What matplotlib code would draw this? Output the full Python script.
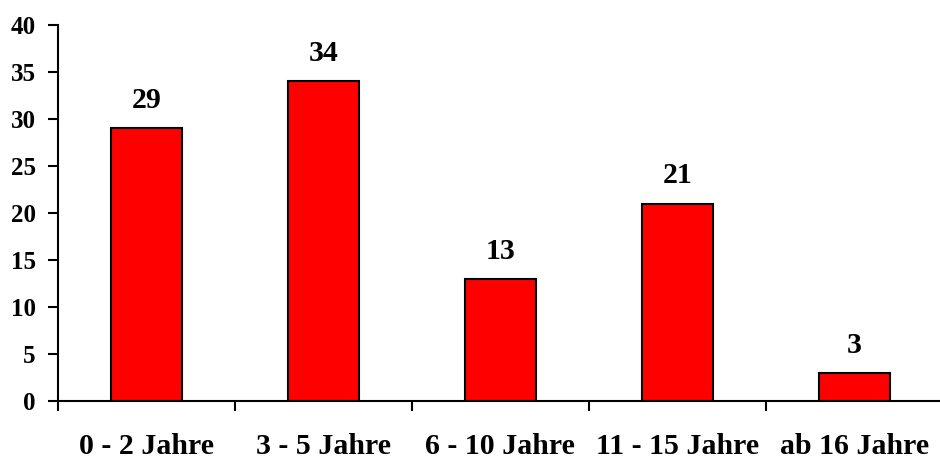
import matplotlib
matplotlib.use("Agg")
import matplotlib.pyplot as plt
import numpy as np

categories = ["0 - 2 Jahre", "3 - 5 Jahre", "6 - 10 Jahre", "11 - 15 Jahre", "ab 16 Jahre"]
values = [29, 34, 13, 21, 3]
y_ticks = [0, 5, 10, 15, 20, 25, 30, 35, 40]

plt.rcParams['font.family'] = ['Liberation Serif', 'DejaVu Serif']
plt.rcParams['font.weight'] = 'bold'

fig = plt.figure(figsize=(9.4, 4.58), dpi=100)
ax = fig.add_axes([0.0617, 0.1245, 0.9413, 0.8209])

x = np.arange(len(categories))
ax.bar(x, values, width=0.4, color='#ff0000', edgecolor='black', linewidth=1.5)

# value labels above each bar
for xi, v in zip(x, values):
    ax.annotate(str(v), (xi, v), xytext=(0, 14.5), textcoords='offset points',
                ha='center', va='baseline', fontsize=21.5, fontweight='bold')

# category names below the axis
for xi, name in zip(x, categories):
    ax.annotate(name, (xi, 0), xycoords=('data', 'axes fraction'),
                xytext=(0, -38), textcoords='offset points',
                ha='center', va='baseline', fontsize=21.5, fontweight='bold')

ax.set_xlim(-0.5, len(categories) - 0.5)
ax.set_ylim(0, 40)
ax.set_yticks(y_ticks)
ax.set_yticklabels([str(t) for t in y_ticks], fontsize=18, fontweight='bold')

# category ticks sit on the boundaries between bars
ax.set_xticks(np.arange(len(categories) + 1) - 0.5)
ax.set_xticklabels([])
ax.tick_params(axis='x', length=7, width=1.5, direction='out')
ax.tick_params(axis='y', length=7, width=1.5, direction='out', pad=9)

for side in ['top', 'right']:
    ax.spines[side].set_visible(False)
for side in ['left', 'bottom']:
    ax.spines[side].set_linewidth(1.5)

fig.savefig("out.png", dpi=100)
